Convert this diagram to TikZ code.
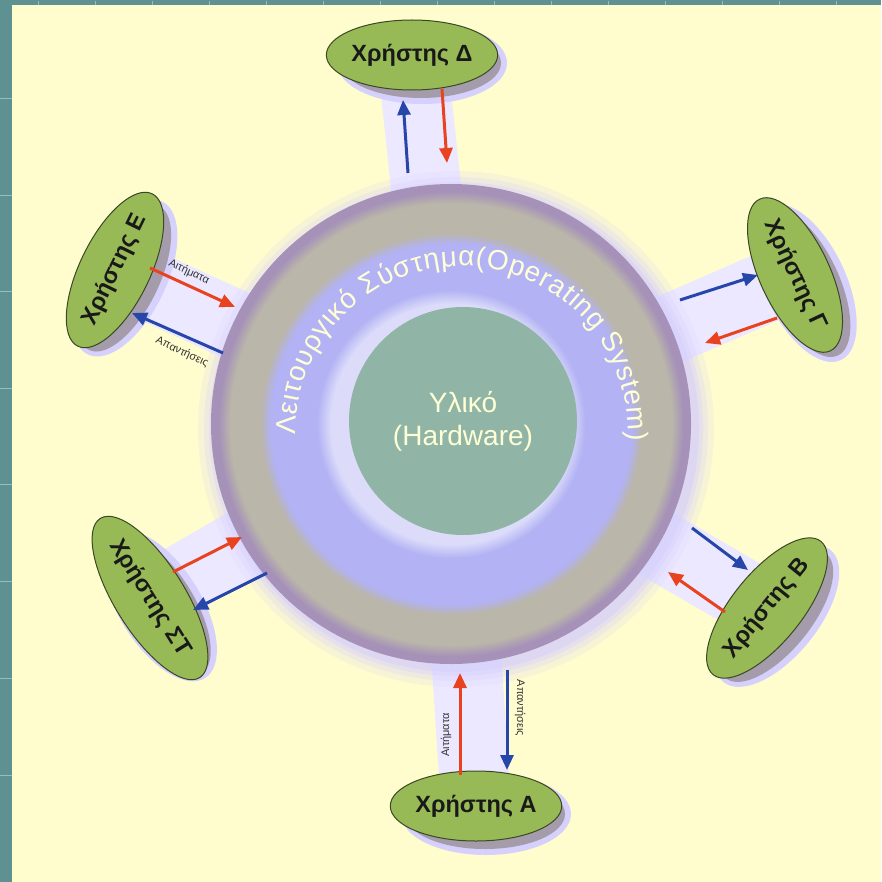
\documentclass[tikz,border=0pt]{standalone}
\usepackage{fontspec}
\setmainfont{Liberation Sans}
\usetikzlibrary{arrows.meta,decorations.text,shapes.geometric,calc}

\definecolor{frame}{RGB}{94,145,145}
\definecolor{frametick}{RGB}{150,190,190}
\definecolor{paper}{RGB}{255,253,206}
\definecolor{leaf}{RGB}{152,186,86}
\definecolor{leafrim}{RGB}{58,72,38}
\definecolor{haze}{RGB}{214,208,252}
\definecolor{bandc}{RGB}{236,232,255}
\definecolor{shadowc}{RGB}{164,156,170}
\definecolor{reqred}{RGB}{232,66,30}
\definecolor{ansblue}{RGB}{38,70,170}
\definecolor{core}{RGB}{144,180,166}
\definecolor{ringedge}{RGB}{166,146,184}
\definecolor{ringgray}{RGB}{186,182,170}
\definecolor{ringlav}{RGB}{178,178,244}
\definecolor{ringpale}{RGB}{220,220,250}
\definecolor{cream}{RGB}{255,255,214}

% the path's rim lies at 25bp of the shading
\pgfdeclareradialshading{osring}{\pgfpoint{0bp}{0bp}}{%
  color(0bp)=(ringpale); color(12.5bp)=(ringpale); color(14bp)=(ringlav);
  color(18.8bp)=(ringlav); color(19.9bp)=(ringgray); color(23bp)=(ringgray);
  color(24.2bp)=(ringedge); color(25bp)=(ringedge); color(50bp)=(ringedge)}

\begin{document}
\begin{tikzpicture}[x=1pt,y=1pt,
  user/.style={ellipse, draw=leafrim, line width=1pt, fill=leaf,
    minimum width=160, minimum height=70, inner sep=0pt,
    font=\fontsize{23.5}{23.5}\selectfont\bfseries, text=black!90},
  userhalo/.style={ellipse, fill=haze, minimum width=170, minimum height=82, inner sep=0pt},
  usershadow/.style={ellipse, fill=shadowc, minimum width=160, minimum height=70, inner sep=0pt},
  req/.style={draw=reqred, line width=3pt, -{Triangle[length=15pt,width=13pt]}},
  ans/.style={draw=ansblue, line width=3pt, -{Triangle[length=15pt,width=13pt]}},
  tag/.style={font=\fontsize{11}{11}\selectfont, text=black!80, inner sep=1pt},
  band/.style={draw=bandc, line width=70pt}]

\useasboundingbox (0,0) rectangle (881,-882);
\fill[paper] (0,0) rectangle (881,-882);

% slide frame
\fill[frame] (0,0) rectangle (881,-5);
\fill[frame] (0,0) rectangle (12,-882);
\foreach \tx in {38,95,152,209,266,323,380,437,494,551,608,665,722,779,836}
  \draw[frametick, line width=0.8pt] (\tx,-1) -- (\tx,-5);
\foreach \ty in {98,195,291,388,484,581,678,775}
  \draw[frametick, line width=0.8pt] (0,-\ty) -- (12,-\ty);

% operating system and hardware centres
\coordinate (osc) at (451,-424);

% pale bands joining each user to the system
\foreach \bx/\by in {412/-55, 115/-270, 795/-275, 150/-598, 767/-608, 476/-806}
  \draw[band] (\bx,\by) -- (osc);

% soft glow round the system disk
\foreach \g/\o in {18/0.18, 12/0.25, 7/0.35, 3/0.5}
  \fill[haze, opacity=\o] ($(osc)+(5,-5)$) circle[radius=240+\g];

\node[circle, minimum size=480, inner sep=0pt, shading=osring] (os) at (osc) {};
\node[circle, minimum size=228, inner sep=0pt, fill=core, text=cream,
      font=\fontsize{28}{33}\selectfont, align=center] (hw) at (463,-421)
      {Υλικό\\(Hardware)};

% curved title of the operating system ring
\path[decorate, decoration={text along path, text align={fit to path},
      text={|\fontsize{28}{28}\selectfont\color{cream}|Λειτουργικό Σύστημα(Operating System)}}]
  (462,-432) ++(181:166) arc[start angle=181, end angle=-3, radius=166];

% users: halo, shadow, ellipse
\foreach \n/\ux/\uy/\ua/\ut in {uD/412/-55/0/Δ, uE/115/-270/64/Ε, uG/795/-275/-65/Γ,
                                uS/150/-598/-58/ΣΤ, uB/767/-608/51/Β, uA/476/-806/0/Α}{
  \node[userhalo, rotate=\ua] at (\ux+10,\uy-8) {};
  \node[usershadow, rotate=\ua] at (\ux+9,\uy-8) {};
  \node[user, rotate=\ua] (\n) at (\ux,\uy) {Χρήστης \ut};
}

% arrow end points
\coordinate (dA1) at (408,-173); \coordinate (dA2) at (403,-100);
\coordinate (dR1) at (442,-89);  \coordinate (dR2) at (447,-163);
\coordinate (eR1) at (150,-268); \coordinate (eR2) at (235,-307);
\coordinate (eA1) at (223,-353); \coordinate (eA2) at (132,-313);
\coordinate (gA1) at (680,-300); \coordinate (gA2) at (758,-275);
\coordinate (gR1) at (777,-318); \coordinate (gR2) at (705,-343);
\coordinate (sR1) at (173,-572); \coordinate (sR2) at (242,-537);
\coordinate (sA1) at (267,-573); \coordinate (sA2) at (193,-610);
\coordinate (bA1) at (692,-528); \coordinate (bA2) at (748,-570);
\coordinate (bR1) at (725,-612); \coordinate (bR2) at (668,-572);
\coordinate (aR1) at (460,-775); \coordinate (aR2) at (460,-673);
\coordinate (aA1) at (507,-670); \coordinate (aA2) at (507,-770);

% requests (red) and answers (blue)
\draw[ans] (dA1) -- (dA2);  \draw[req] (dR1) -- (dR2);
\draw[req] (eR1) -- (eR2);  \draw[ans] (eA1) -- (eA2);
\draw[ans] (gA1) -- (gA2);  \draw[req] (gR1) -- (gR2);
\draw[req] (sR1) -- (sR2);  \draw[ans] (sA1) -- (sA2);
\draw[ans] (bA1) -- (bA2);  \draw[req] (bR1) -- (bR2);
\draw[req] (aR1) -- (aR2);  \draw[ans] (aA1) -- (aA2);

% arrow labels
\node[tag, rotate=-25] (tE1) at (189,-272) {Αιτήματα};
\node[tag, rotate=-25] (tE2) at (182,-352) {Απαντήσεις};
\node[tag, rotate=90]  (tA1) at (446,-735) {Αιτήματα};
\node[tag, rotate=-90] (tA2) at (520,-708) {Απαντήσεις};
\end{tikzpicture}
\end{document}
